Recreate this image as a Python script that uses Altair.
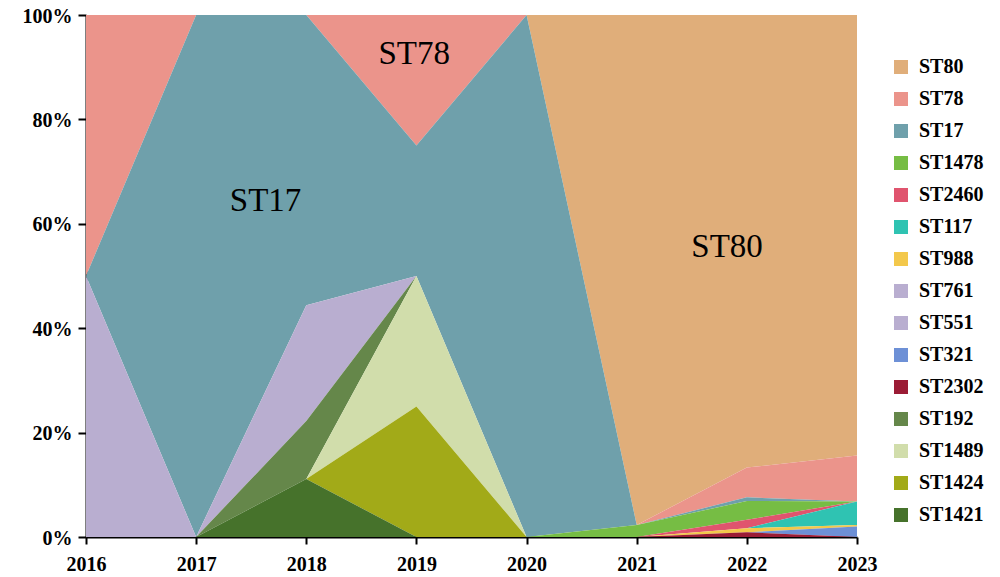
import altair as alt
import pandas as pd

years = [2016, 2017, 2018, 2019, 2020, 2021, 2022, 2023]

# legend order (top to bottom); stack order is the reverse (ST1421 at the bottom)
legend_order = ["ST80", "ST78", "ST17", "ST1478", "ST2460", "ST117", "ST988",
                "ST761", "ST551", "ST321", "ST2302", "ST192", "ST1489", "ST1424", "ST1421"]
colors = ["#e0ae7a", "#eb948b", "#6fa0ab", "#76bd44", "#e0546e", "#2fc3b2", "#f3c84b",
          "#b9aed0", "#b9aed0", "#6d90d6", "#9b1c35", "#65874a", "#d1ddab", "#a2aa18", "#46722b"]

# values (percent) per year 2016..2023
ST80 = [0, 0, 0, 0, 0, 97.7, 86.7, 84.4]
ST78 = [50, 0, 0, 25, 0, 0, 5.7, 8.8]
ST17 = [0, 100, 55.6, 25, 100, 0, 0.7, 0]
ST1478 = [0, 0, 0, 0, 0, 2.3, 3.6, 0]
ST2460 = [0, 0, 0, 0, 0, 0, 1.6, 0]
ST117 = [0, 0, 0, 0, 0, 0, 0, 4.5]
ST988 = [0, 0, 0, 0, 0, 0, 0.8, 0.3]
ST761 = [50, 0, 0, 0, 0, 0, 0, 0]
ST551 = [0, 0, 22.2, 0, 0, 0, 0, 0]
ST321 = [0, 0, 0, 0, 0, 0, 0, 2.0]
ST2302 = [0, 0, 0, 0, 0, 0, 0.9, 0]
ST192 = [0, 0, 11.1, 0, 0, 0, 0, 0]
ST1489 = [0, 0, 0, 25, 0, 0, 0, 0]
ST1424 = [0, 0, 0, 25, 0, 0, 0, 0]
ST1421 = [0, 0, 11.1, 0, 0, 0, 0, 0]

series = {"ST80": ST80, "ST78": ST78, "ST17": ST17, "ST1478": ST1478, "ST2460": ST2460,
          "ST117": ST117, "ST988": ST988, "ST761": ST761, "ST551": ST551, "ST321": ST321,
          "ST2302": ST2302, "ST192": ST192, "ST1489": ST1489, "ST1424": ST1424, "ST1421": ST1421}

rows = []
for name, vals in series.items():
    ordv = len(legend_order) - legend_order.index(name)
    for y, v in zip(years, vals):
        rows.append({"year": y, "st": name, "value": v, "ord": ordv})
df = pd.DataFrame(rows)

# in-chart labels
ann_text = ["ST17", "ST78", "ST80"]
ann_year = [2017.63, 2018.98, 2021.82]
ann_pct = [0.644, 0.925, 0.556]
ann = pd.DataFrame({"t": ann_text, "year": ann_year, "pct": ann_pct})

FONT = "Liberation Serif"

x_enc = alt.X("year:Q",
              scale=alt.Scale(domain=[2016, 2023], nice=False, zero=False),
              axis=alt.Axis(values=years, format="d", title=None, grid=False,
                            labelFlush=False, labelFont=FONT, labelFontSize=20,
                            labelFontWeight="bold", labelColor="black",
                            domainColor="black", domainWidth=2, tickColor="black",
                            tickWidth=2, tickSize=7, labelPadding=10))

area = alt.Chart(df).mark_area().encode(
    x=x_enc,
    y=alt.Y("value:Q", stack="normalize",
            scale=alt.Scale(domain=[0, 1]),
            axis=alt.Axis(values=[0, 0.2, 0.4, 0.6, 0.8, 1.0], format=".0%", title=None,
                          grid=False, labelFlush=False, labelFont=FONT, labelFontSize=20,
                          labelFontWeight="bold", labelColor="black", labelOffset=1,
                          domainColor="black", domainWidth=2, tickColor="black",
                          tickWidth=2, tickSize=8, labelPadding=6)),
    color=alt.Color("st:N", scale=alt.Scale(domain=legend_order, range=colors),
                    legend=alt.Legend(title=None, orient="none", legendX=805, legendY=42,
                                      symbolType="square", symbolSize=196,
                                      symbolStrokeWidth=0,
                                      labelFont=FONT, labelFontSize=20,
                                      labelFontWeight="bold", labelColor="black",
                                      labelOffset=8, rowPadding=12, padding=0)),
    order=alt.Order("ord:Q", sort="ascending"),
)

text = alt.Chart(ann).mark_text(font=FONT, fontSize=33, color="black",
                                baseline="middle", align="center").encode(
    x=alt.X("year:Q"), y=alt.Y("pct:Q"), text="t:N")

chart = alt.layer(area, text).properties(
    width=771, height=522,
    autosize=alt.AutoSizeParams(type="none"),
    padding={"left": 78, "top": 7, "right": 130, "bottom": 40},
).configure_view(stroke=None)

chart.save("out.html", embed_options={"renderer": "svg", "actions": False})
